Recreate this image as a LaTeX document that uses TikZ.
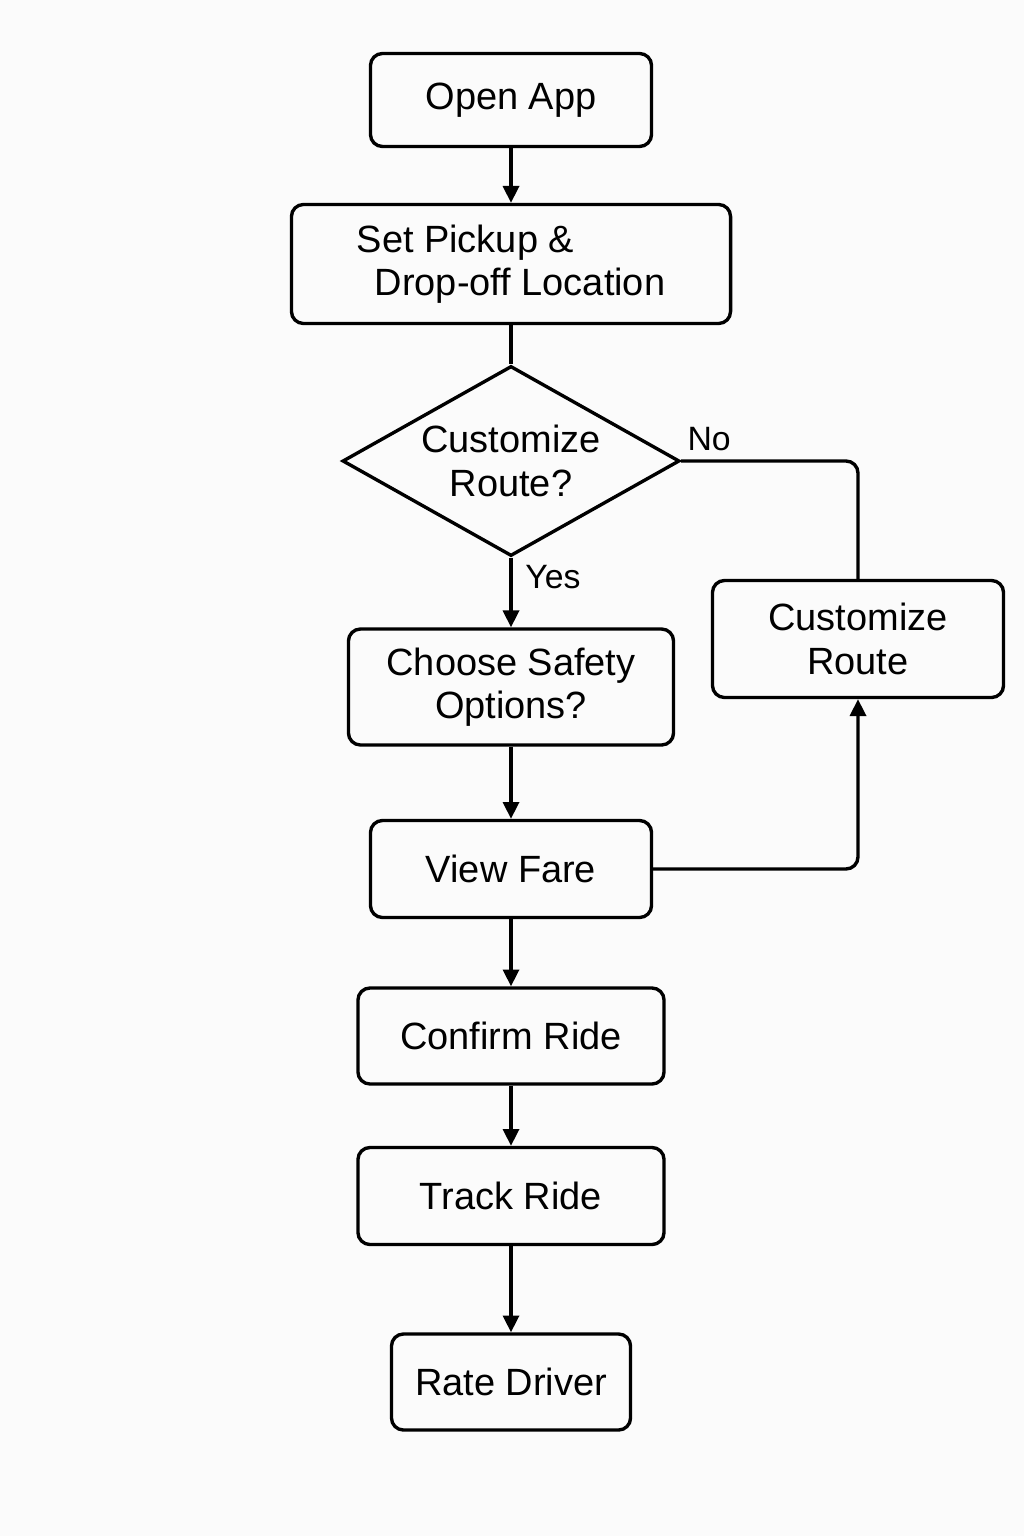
\documentclass[tikz,border=0pt]{standalone}
\usepackage{fontspec}
\setmainfont{Liberation Sans}
\usepackage{tikz}
\usetikzlibrary{arrows.meta,shapes.geometric}
\definecolor{paper}{RGB}{251,251,251}
\tikzset{%
	process/.style  = {draw, rectangle, rounded corners=0.3cm, line width=2.4pt, align=center, inner sep=0pt, font=\fontsize{27}{31}\selectfont},
	decision/.style = {draw, diamond, aspect=1.77, line width=2.4pt, align=center, inner sep=0pt, font=\fontsize{27}{31}\selectfont},
	arrow/.style    = {line width=2.4pt, -{Triangle[length=0.42cm,width=0.4cm]}},
	link/.style     = {line width=2.4pt},
	tag/.style      = {font=\fontsize{24}{28}\selectfont},
}
\begin{document}
\begin{tikzpicture}[x=0.025cm,y=-0.025cm]
	\fill[paper] (0,0) rectangle (1024,1536);
	\useasboundingbox (0,0) rectangle (1024,1536);
	
	\node[process, minimum width=7.025cm, minimum height=2.325cm] (open) at (511,100) {Open App};
	\node[process, minimum width=10.975cm, minimum height=2.975cm, align=left] (pickup) at (511,264) {Set Pickup \&\\\hspace*{0.45cm}Drop-off Location};
	\node[decision, minimum width=8.425cm, minimum height=4.75cm] (custq) at (511,461) {Customize\\Route?};
	\node[process, minimum width=8.125cm, minimum height=2.9cm] (safety) at (511,687) {Choose Safety\\Options?};
	\node[process, minimum width=7.275cm, minimum height=2.925cm] (custom) at (858,639) {Customize\\Route};
	\node[process, minimum width=7.025cm, minimum height=2.425cm] (fare) at (511,869) {View Fare};
	\node[process, minimum width=7.65cm, minimum height=2.4cm] (confirm) at (511,1036) {Confirm Ride};
	\node[process, minimum width=7.65cm, minimum height=2.425cm] (track) at (511,1196) {Track Ride};
	\node[process, minimum width=5.975cm, minimum height=2.4cm] (rate) at (511,1382) {Rate Driver};
	
	\draw[arrow] (open) -- (pickup);
	\draw[link] (pickup) -- (custq);
	\draw[arrow] (custq.south) -- node[tag, right, pos=0.28, xshift=0.2cm] {Yes} (safety);
	\draw[link, rounded corners=0.3cm] (custq.east) -| node[tag, above right, pos=0, yshift=0.1cm] {No} (custom.north);
	\draw[arrow] (safety) -- (fare);
	\draw[arrow, rounded corners=0.3cm] (fare.east) -| (custom.south);
	\draw[arrow] (fare) -- (confirm);
	\draw[arrow] (confirm) -- (track);
	\draw[arrow] (track) -- (rate);
\end{tikzpicture}
\end{document}
